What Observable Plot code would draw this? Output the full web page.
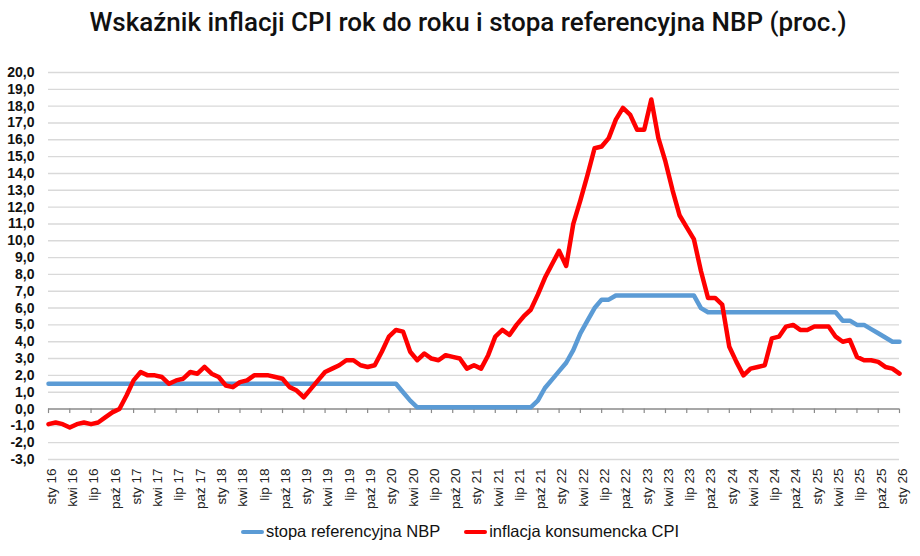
<!DOCTYPE html>
<html>
<head>
<meta charset="utf-8">
<script src="https://cdn.jsdelivr.net/npm/d3@7"></script>
<script src="https://cdn.jsdelivr.net/npm/@observablehq/plot@0.6"></script>
<style>
  html, body { margin: 0; padding: 0; background: #fff; }
  #wrap { width: 920px; height: 556px; position: relative; overflow: hidden; }
  #title { height: 50px; line-height: 44px; text-align: center; padding-left: 16px; box-sizing: border-box; font-family: Roboto, "Liberation Sans", sans-serif; font-weight: 500; font-size: 26px; color: #111; letter-spacing: 0px; }
  #legend { position: absolute; left: 0; top: 522px; width: 920px; display: flex; justify-content: center; align-items: center; font-family: "Liberation Sans", Arial, sans-serif; font-size: 16.5px; color: #111; }
  .item { display: flex; align-items: center; margin: 0 12px; }
  .sw { width: 23px; height: 4px; border-radius: 2px; margin-right: 2px; }
</style>
</head>
<body>
<div id="wrap">
  <div id="title">Wskaźnik inflacji CPI rok do roku i stopa referencyjna NBP (proc.)</div>
  <div id="chart"></div>
  <div id="legend"></div>
</div>
<script>
// Monthly data, sty 16 ... sty 26
const cpi = [
  -0.9,-0.8,-0.9,-1.1,-0.9,-0.8,-0.9,-0.8,-0.5,-0.2,0.0,0.8,
  1.7,2.2,2.0,2.0,1.9,1.5,1.7,1.8,2.2,2.1,2.5,2.1,
  1.9,1.4,1.3,1.6,1.7,2.0,2.0,2.0,1.9,1.8,1.3,1.1,
  0.7,1.2,1.7,2.2,2.4,2.6,2.9,2.9,2.6,2.5,2.6,3.4,
  4.3,4.7,4.6,3.4,2.9,3.3,3.0,2.9,3.2,3.1,3.0,2.4,
  2.6,2.4,3.2,4.3,4.7,4.4,5.0,5.5,5.9,6.8,7.8,8.6,
  9.4,8.5,11.0,12.4,13.9,15.5,15.6,16.1,17.2,17.9,17.5,16.6,
  16.6,18.4,16.1,14.7,13.0,11.5,10.8,10.1,8.2,6.6,6.6,6.2,
  3.7,2.8,2.0,2.4,2.5,2.6,4.2,4.3,4.9,5.0,4.7,4.7,
  4.9,4.9,4.9,4.3,4.0,4.1,3.1,2.9,2.9,2.8,2.5,2.4,
  2.1
];
const refRate = [
  1.5,1.5,1.5,1.5,1.5,1.5,1.5,1.5,1.5,1.5,1.5,1.5,
  1.5,1.5,1.5,1.5,1.5,1.5,1.5,1.5,1.5,1.5,1.5,1.5,
  1.5,1.5,1.5,1.5,1.5,1.5,1.5,1.5,1.5,1.5,1.5,1.5,
  1.5,1.5,1.5,1.5,1.5,1.5,1.5,1.5,1.5,1.5,1.5,1.5,
  1.5,1.5,1.0,0.5,0.1,0.1,0.1,0.1,0.1,0.1,0.1,0.1,
  0.1,0.1,0.1,0.1,0.1,0.1,0.1,0.1,0.1,0.5,1.25,1.75,
  2.25,2.75,3.5,4.5,5.25,6.0,6.5,6.5,6.75,6.75,6.75,6.75,
  6.75,6.75,6.75,6.75,6.75,6.75,6.75,6.75,6.0,5.75,5.75,5.75,
  5.75,5.75,5.75,5.75,5.75,5.75,5.75,5.75,5.75,5.75,5.75,5.75,
  5.75,5.75,5.75,5.75,5.25,5.25,5.0,5.0,4.75,4.5,4.25,4.0,
  4.0
];
const tickLabels = [
  "sty 16","kwi 16","lip 16","paź 16","sty 17","kwi 17","lip 17","paź 17",
  "sty 18","kwi 18","lip 18","paź 18","sty 19","kwi 19","lip 19","paź 19",
  "sty 20","kwi 20","lip 20","paź 20","sty 21","kwi 21","lip 21","paź 21",
  "sty 22","kwi 22","lip 22","paź 22","sty 23","kwi 23","lip 23","paź 23",
  "sty 24","kwi 24","lip 24","paź 24","sty 25","kwi 25","lip 25","paź 25",
  "sty 26"
];
const yTicks = [-3,-2,-1,0,1,2,3,4,5,6,7,8,9,10,11,12,13,14,15,16,17,18,19,20];
const seriesNames = ["stopa referencyjna NBP", "inflacja konsumencka CPI"];
const seriesColors = ["#5b9bd5", "#ff0000"];

const rows = [];
refRate.forEach((v, i) => rows.push({i, v, s: seriesNames[0]}));
cpi.forEach((v, i) => rows.push({i, v, s: seriesNames[1]}));
const xTickIdx = tickLabels.map((_, k) => k * 3);

const chart = Plot.plot({
  width: 920,
  height: 465,
  marginLeft: 48,
  marginRight: 21,
  marginTop: 22,
  marginBottom: 56,
  style: {background: "#fff", overflow: "visible"},
  x: {domain: [0, cpi.length - 1], axis: null},
  y: {domain: [d3.min(yTicks), d3.max(yTicks)], axis: null},
  color: {domain: seriesNames, range: seriesColors},
  marks: [
    Plot.ruleY(yTicks.filter(d => d !== 0), {stroke: "#d9d9d9", strokeWidth: 1.4}),
    Plot.ruleY([0], {stroke: "#8a8a8a", strokeWidth: 1.4}),
    Plot.ruleX(xTickIdx, {x: d => d, y1: 0, y2: -0.27, stroke: "#8a8a8a", strokeWidth: 1.2}),
    Plot.axisY({
      ticks: yTicks, tickSize: 0, tickPadding: 14, label: null,
      tickFormat: d => d.toFixed(1).replace(".", ","),
      fontSize: 14, fontWeight: "bold", fill: "#111",
      fontFamily: "'Liberation Sans', Arial, sans-serif"
    }),
    Plot.axisX({
      ticks: xTickIdx, tickSize: 0, tickPadding: 9, tickRotate: -90, label: null,
      tickFormat: i => tickLabels[i / 3], dx: 3,
      fontSize: 13.5, fill: "#222",
      fontFamily: "'Liberation Sans', Arial, sans-serif"
    }),
    Plot.line(rows, {x: "i", y: "v", stroke: "s", z: "s", strokeWidth: 4.5, strokeLinejoin: "round", strokeLinecap: "round"})
  ]
});
document.getElementById("chart").appendChild(chart);

const legend = document.getElementById("legend");
seriesNames.forEach((n, k) => {
  const it = document.createElement("div");
  it.className = "item";
  it.innerHTML = `<span class="sw" style="background:${seriesColors[k]}"></span><span>${n}</span>`;
  legend.appendChild(it);
});
</script>
</body>
</html>
